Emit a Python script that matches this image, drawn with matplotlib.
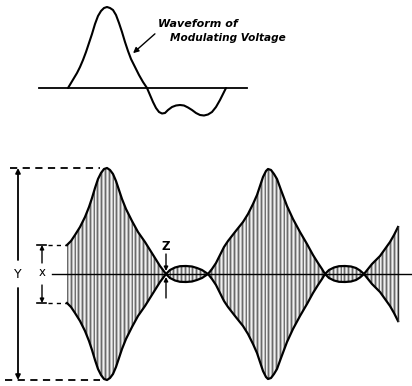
import numpy as np
import matplotlib
matplotlib.use("Agg")
import matplotlib.pyplot as plt
from matplotlib.patches import Polygon

# ---- data (pixel-scaled units) ----
# Modulating voltage waveform (height above its baseline)
mod_x = [68, 71, 74, 77, 80, 83, 86, 89, 92, 95, 98, 101, 104, 107, 110, 113, 116, 119,
         122, 125, 128, 131, 135, 139, 143, 147, 150, 153, 156, 159, 162, 165, 168, 172,
         176, 180, 184, 188, 192, 196, 200, 204, 208, 212, 216, 220, 223, 226]
mod_v = [0, 5, 10, 15, 21, 28, 36, 45, 54, 64, 72, 77, 80, 81, 80, 78, 73, 65,
         56, 46, 37, 29, 21, 13, 6, 0, -7, -14, -20, -24, -25.5, -25, -22, -19,
         -17.5, -17, -17.5, -19.5, -22, -25, -27, -27.5, -26.5, -24, -19, -12, -6, 0]

# Envelope of modulated carrier (half amplitude)
env_x = [67, 71, 75, 80, 85, 89, 92, 95, 98, 101, 104, 107, 110, 113, 116, 119, 122, 126,
         132, 138, 145, 150, 155, 160, 163, 166,
         170, 175, 180, 186, 192, 197, 202, 208,
         212, 216, 220, 224, 228, 235, 243, 248, 253, 257, 260, 263, 266, 268, 271, 274,
         277, 281, 287, 293, 300, 307, 313, 318, 322, 325,
         329, 334, 339, 345, 351, 356, 360, 364,
         368, 372, 376, 380, 385, 390, 394, 398]
env_a = [29, 33, 39, 47, 57, 67, 76, 86, 95, 101, 105, 106, 104, 100, 93, 84, 75, 65,
         53, 42, 32, 24, 16, 8, 4, 0,
         4, 6.5, 7.8, 8, 7.5, 6, 4, 0,
         5, 11, 19, 27, 33, 42, 52, 60, 70, 79, 88, 97, 103, 105, 104, 100,
         95, 84, 68, 55, 42, 30, 19, 11, 5, 0,
         4, 6.5, 7.8, 8, 7.5, 6, 3.5, 0,
         5, 10, 14, 18, 25, 32, 39, 47]

labels = {"wave1": "Waveform of", "wave2": "Modulating Voltage",
          "Y": "Y", "x": "x", "Z": "Z"}

# ---- layout ----
W, H = 412, 386
fig = plt.figure(figsize=(W / 100, H / 100), dpi=100)
ax = fig.add_axes([0, 0, 1, 1])
ax.set_xlim(0, W)
ax.set_ylim(H, 0)
ax.axis("off")

base_top = 88
base_bot = 274

# upper modulating waveform
ax.plot([39, 247], [base_top, base_top], color="black", lw=1.3)
ax.plot(mod_x, [base_top - v for v in mod_v], color="black", lw=1.5,
        solid_joinstyle="round", solid_capstyle="round")

tkw = dict(style="italic", weight="bold", family="DejaVu Sans",
           ha="left", va="center")
ax.text(158, 24, labels["wave1"], fontsize=8, **tkw)
ax.text(170, 38, labels["wave2"], fontsize=7.6, **tkw)
ax.annotate("", xy=(131, 55), xytext=(157, 32),
            arrowprops=dict(arrowstyle="-|>", color="black", lw=1.0,
                            mutation_scale=8))

# lower modulated wave
ex = np.array(env_x, float)
ea = np.array(env_a, float)
top = base_bot - ea
bot = base_bot + ea
poly_xy = np.column_stack([np.concatenate([ex, ex[::-1]]),
                           np.concatenate([top, bot[::-1]])])
poly = Polygon(poly_xy, closed=True, facecolor="#c2c2c2", edgecolor="none")
ax.add_patch(poly)

cx = np.arange(ex[0], ex[-1] + 0.1, 3.8)
vl = ax.vlines(cx, base_bot - 120, base_bot + 120, color="#6a6a6a", lw=0.9)
vl.set_clip_path(poly)
vw = ax.vlines(cx + 1.9, base_bot - 120, base_bot + 120, color="#f0f0f0", lw=0.8)
vw.set_clip_path(poly)

ax.plot(ex, top, color="black", lw=1.6, solid_joinstyle="round")
ax.plot(ex, bot, color="black", lw=1.6, solid_joinstyle="round")
ax.plot([ex[-1], ex[-1]], [top[-1], bot[-1]], color="#333333", lw=1.0)
ax.plot([52, 412], [base_bot, base_bot], color="black", lw=1.0)

amax = max(env_a)
# Y dimension
ax.plot([10, 100], [base_bot - amax, base_bot - amax], color="black", lw=1.3,
        ls=(0, (4, 3)))
ax.plot([5, 100], [base_bot + amax, base_bot + amax], color="black", lw=1.3,
        ls=(0, (4, 3)))
ax.annotate("", xy=(18, base_bot - amax), xytext=(18, 260),
            arrowprops=dict(arrowstyle="-|>", color="black", lw=1.3, mutation_scale=7,
                            shrinkA=0, shrinkB=0))
ax.annotate("", xy=(18, base_bot + amax), xytext=(18, 288),
            arrowprops=dict(arrowstyle="-|>", color="black", lw=1.3, mutation_scale=7,
                            shrinkA=0, shrinkB=0))
ax.text(18, base_bot, labels["Y"], fontsize=9, ha="center", va="center")

# x dimension
a0 = env_a[0]
for yy in (base_bot - a0, base_bot + a0):
    ax.plot([37, 46], [yy, yy], color="black", lw=1.2)
    ax.plot([48, 67], [yy, yy], color="black", lw=1.0, ls=(0, (3, 3)))
ax.annotate("", xy=(42, base_bot - a0), xytext=(42, 263),
            arrowprops=dict(arrowstyle="-|>", color="black", lw=1.0, mutation_scale=6,
                            shrinkA=0, shrinkB=0))
ax.annotate("", xy=(42, base_bot + a0), xytext=(42, 285),
            arrowprops=dict(arrowstyle="-|>", color="black", lw=1.0, mutation_scale=6,
                            shrinkA=0, shrinkB=0))
ax.text(42, base_bot - 2, labels["x"], fontsize=8.5, ha="center", va="center")

# Z marker
zx = 166
ax.annotate("", xy=(zx, base_bot - 3), xytext=(zx, 254),
            arrowprops=dict(arrowstyle="-|>", color="black", lw=1.0, mutation_scale=6,
                            shrinkA=0, shrinkB=0))
ax.annotate("", xy=(zx, base_bot + 3), xytext=(zx, 298),
            arrowprops=dict(arrowstyle="-|>", color="black", lw=1.0, mutation_scale=6,
                            shrinkA=0, shrinkB=0))
ax.text(zx, 247, labels["Z"], fontsize=8.5, weight="bold", ha="center", va="center")

fig.savefig("out.png", dpi=100)
